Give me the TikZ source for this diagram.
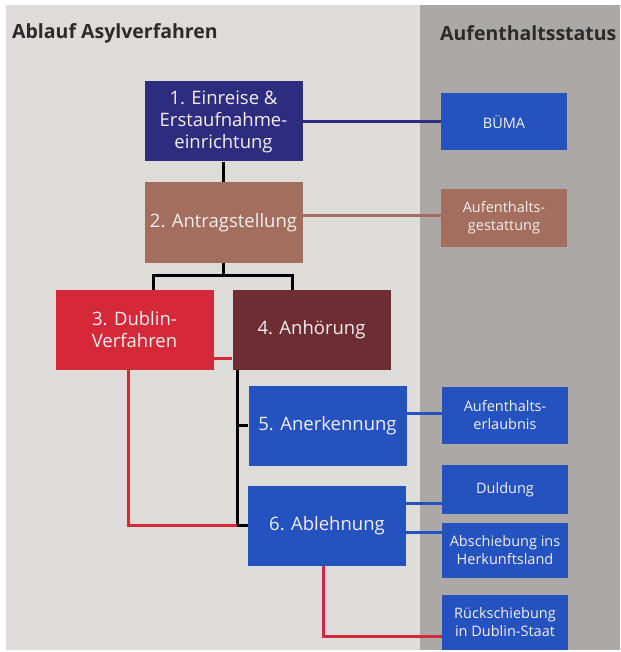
\documentclass[tikz,border=0pt]{standalone}
\usepackage{fontspec}
\setmainfont{Open Sans}
\definecolor{bglight}{HTML}{DEDCD9}
\definecolor{bgdark}{HTML}{ABA8A5}
\definecolor{navy}{HTML}{2E2C7E}
\definecolor{blu}{HTML}{2452BE}
\definecolor{brn}{HTML}{A46E5E}
\definecolor{rd}{HTML}{D5293A}
\definecolor{maroon}{HTML}{6E2C33}
\definecolor{boxtext}{HTML}{F2EEEE}
\definecolor{headtext}{HTML}{2B2B2B}
\tikzset{
  stepbox/.style={draw=none, minimum width=158pt, minimum height=80pt, inner sep=2pt,
    align=center, text=boxtext, font=\fontsize{18.5}{22}\selectfont},
  statbox/.style={draw=none, minimum width=126pt, minimum height=57pt, inner sep=2pt,
    align=center, text=boxtext, font=\fontsize{14.5}{18}\selectfont},
  headline/.style={anchor=west, text=headtext, font=\fontsize{19.5}{22}\selectfont\bfseries, inner sep=0pt},
  conn/.style={line width=3pt},
}
\begin{document}
\begin{tikzpicture}[x=1pt,y=-1pt]
\useasboundingbox (0,0) rectangle (620,652);
\fill[white] (0,0) rectangle (620,652);
\fill[bglight] (6,5) rectangle (420,650);
\fill[bgdark] (420,5) rectangle (620,650);

\node[headline] (h1) at (12,33) {Ablauf Asylverfahren};
\node[headline] (h2) at (440,33) {Aufenthaltsstatus};

\node[stepbox, fill=navy] (n1) at (223.5,121.5) {1. Einreise \&\\Erstaufnahme-\\einrichtung};
\node[stepbox, fill=brn] (n2) at (223.5,222.5) {2. Antragstellung};
\node[stepbox, fill=rd] (n3) at (134.5,330) {3. Dublin-\\Verfahren};
\node[stepbox, fill=maroon] (n4) at (311.5,330) {4. Anhörung};
\node[stepbox, fill=blu] (n5) at (327.5,425.5) {5. Anerkennung};
\node[stepbox, fill=blu] (n6) at (327,526) {6. Ablehnung};

\node[statbox, fill=blu] (buma) at (504,122) {BÜMA};
\node[statbox, fill=brn] (gest) at (504,218) {Aufenthalts-\\gestattung};
\node[statbox, fill=blu] (erl) at (505,415) {Aufenthalts-\\erlaubnis};
\node[statbox, fill=blu, minimum height=49pt] (duld) at (505,489.5) {Duldung};
\node[statbox, fill=blu, minimum height=55pt] (absch) at (505,550.5) {Abschiebung ins\\Herkunftsland};
\node[statbox, fill=blu, minimum height=55pt] (rueck) at (505,622.5) {Rückschiebung\\in Dublin-Staat};

% coordinates for connector routing
\coordinate (f3) at (153,275);
\coordinate (f4) at (292,275);
\coordinate (j6) at (237,525);
\coordinate (r3) at (128,525);
\coordinate (y358) at (0,358);
\coordinate (y503) at (0,503);
\coordinate (y532) at (0,532);
\coordinate (y413) at (0,413);
\coordinate (y215) at (0,215);
\coordinate (r6) at (323,636);

% black tree
\draw[conn, black] (n1.south) -- (n2.north);
\draw[conn, black] (n2.south) -- (n2.south |- f3);
\draw[conn, black] (n3.north -| f3) -- (f3) -- (f4) -- (n4.north -| f4);
\draw[conn, black] (n4.south -| j6) -- (j6) -- (n6.west |- j6);
\draw[conn, black] (n5.west -| j6) -- (n5.west);

% red Dublin lines
\draw[conn, rd] (n3.east |- y358) -- (n4.west |- y358);
\draw[conn, rd] (n3.south -| r3) -- (r3) -- (j6);
\draw[conn, rd] (n6.south -| r6) -- (r6) -- (rueck.west |- r6);

% status links
\draw[conn, navy] (n1.east) -- (buma.west |- n1.east);
\draw[conn, brn] (n2.east |- y215) -- (gest.west |- y215);
\draw[conn, blu] (n5.east |- y413) -- (erl.west |- y413);
\draw[conn, blu] (n6.east |- y503) -- (duld.west |- y503);
\draw[conn, blu] (n6.east |- y532) -- (absch.west |- y532);
\end{tikzpicture}
\end{document}
